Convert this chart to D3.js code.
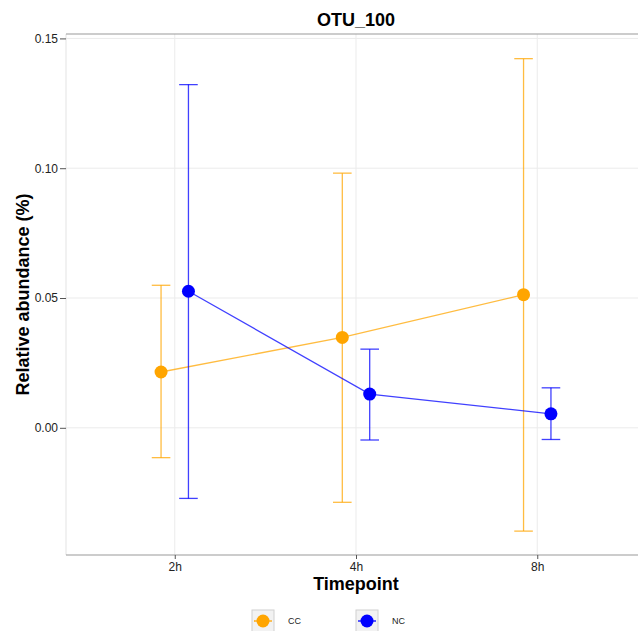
<!DOCTYPE html>
<html>
<head>
<meta charset="utf-8">
<script src="https://cdn.jsdelivr.net/npm/d3@7"></script>
<style>
  body { margin: 0; background: #fff; }
  text { font-family: "Liberation Sans", Arial, sans-serif; }
</style>
</head>
<body>
<svg id="chart"></svg>
<script>
// DATA //////////////////////////////////////////////////////////////////
var timepoints = ["2h", "4h", "8h"];
var groups = ["CC", "NC"];
var cc_mean  = [0.0215, 0.0348, 0.0513];
var cc_upper = [0.0549, 0.0981, 0.1422];
var cc_lower = [-0.0115, -0.0287, -0.0398];
var nc_mean  = [0.0526, 0.0130, 0.0054];
var nc_upper = [0.1322, 0.0303, 0.0154];
var nc_lower = [-0.0272, -0.0047, -0.0045];
var y_ticks = [0.00, 0.05, 0.10, 0.15];

var colours = { CC: "#FFA500", NC: "#0000FF" };

var series = [
  { group: "CC", mean: cc_mean, upper: cc_upper, lower: cc_lower },
  { group: "NC", mean: nc_mean, upper: nc_upper, lower: nc_lower }
];

// SETUP /////////////////////////////////////////////////////////////////
var WIDTH = 638, HEIGHT = 631;
var PANEL = { left: 66, top: 34, right: 646, bottom: 555 };

var svg = d3.select("#chart").attr("width", WIDTH).attr("height", HEIGHT);

// discrete x with ggplot-like expansion of 0.6 on each side
var x = d3.scalePoint().domain(timepoints)
    .range([PANEL.left, PANEL.right]).padding(0.6);
var dodge = d3.scalePoint().domain(groups).range([-13.7, 13.7]);
var y = d3.scaleLinear().domain([-0.049, 0.1517]).range([PANEL.bottom, PANEL.top]);

// grid
var grid = svg.append("g");
grid.selectAll("line.h").data(y_ticks).enter().append("line")
    .attr("x1", PANEL.left).attr("x2", PANEL.right)
    .attr("y1", function (d) { return y(d); }).attr("y2", function (d) { return y(d); })
    .attr("stroke", "#ebebeb").attr("stroke-width", 1);
grid.selectAll("line.v").data(timepoints).enter().append("line")
    .attr("x1", function (d) { return x(d); }).attr("x2", function (d) { return x(d); })
    .attr("y1", PANEL.top).attr("y2", PANEL.bottom)
    .attr("stroke", "#ebebeb").attr("stroke-width", 1);

// panel edges
svg.append("line").attr("x1", PANEL.left).attr("x2", PANEL.left)
    .attr("y1", PANEL.top).attr("y2", PANEL.bottom).attr("stroke", "#e3e3e3");
svg.append("line").attr("x1", PANEL.left).attr("x2", PANEL.right)
    .attr("y1", PANEL.top).attr("y2", PANEL.top).attr("stroke", "#9a9a9a").attr("stroke-width", 1.2);
svg.append("line").attr("x1", PANEL.left).attr("x2", PANEL.right)
    .attr("y1", PANEL.bottom).attr("y2", PANEL.bottom).attr("stroke", "#9a9a9a").attr("stroke-width", 1.2);

// AXES //////////////////////////////////////////////////////////////////
var yAxis = svg.append("g")
    .attr("transform", "translate(" + PANEL.left + ",0)")
    .call(d3.axisLeft(y).tickValues(y_ticks).tickFormat(d3.format(".2f")).tickSize(6).tickPadding(2));
yAxis.select(".domain").remove();
yAxis.selectAll("line").attr("stroke", "#555");
yAxis.selectAll("text").style("font-size", "12px").attr("fill", "#222");

var xAxis = svg.append("g")
    .attr("transform", "translate(0," + PANEL.bottom + ")")
    .call(d3.axisBottom(x).tickSize(4).tickPadding(3));
xAxis.select(".domain").remove();
xAxis.selectAll("line").attr("stroke", "#555");
xAxis.selectAll("text").style("font-size", "12px").attr("fill", "#222");

svg.append("text")
    .attr("x", 356).attr("y", 590)
    .attr("text-anchor", "middle")
    .style("font-size", "18px").style("font-weight", "bold")
    .text("Timepoint");

svg.append("text")
    .attr("transform", "translate(28.5,294.5) rotate(-90)")
    .attr("text-anchor", "middle")
    .style("font-size", "18px").style("font-weight", "bold")
    .text("Relative abundance (%)");

svg.append("text")
    .attr("x", 356).attr("y", 26)
    .attr("text-anchor", "middle")
    .style("font-size", "18px").style("font-weight", "bold")
    .text("OTU_100");

// MARKS /////////////////////////////////////////////////////////////////
function px(group, i) { return x(timepoints[i]) + dodge(group); }

var line = d3.line()
    .x(function (d) { return d.x; })
    .y(function (d) { return d.y; });

series.forEach(function (s) {
    var g = svg.append("g");
    var col = colours[s.group];
    var pts = s.mean.map(function (m, i) {
        return { x: px(s.group, i), y: y(m), up: y(s.upper[i]), lo: y(s.lower[i]) };
    });

    // error bars
    var eb = g.append("g").attr("stroke", col).attr("stroke-opacity", 0.75).attr("stroke-width", 1.3);
    eb.selectAll("line.v").data(pts).enter().append("line")
        .attr("x1", function (d) { return d.x; }).attr("x2", function (d) { return d.x; })
        .attr("y1", function (d) { return d.up; }).attr("y2", function (d) { return d.lo; });
    eb.selectAll("line.t").data(pts).enter().append("line")
        .attr("x1", function (d) { return d.x - 9.3; }).attr("x2", function (d) { return d.x + 9.3; })
        .attr("y1", function (d) { return d.up; }).attr("y2", function (d) { return d.up; });
    eb.selectAll("line.b").data(pts).enter().append("line")
        .attr("x1", function (d) { return d.x - 9.3; }).attr("x2", function (d) { return d.x + 9.3; })
        .attr("y1", function (d) { return d.lo; }).attr("y2", function (d) { return d.lo; });

    // connecting line
    g.append("path").datum(pts)
        .attr("d", line)
        .attr("fill", "none")
        .attr("stroke", col).attr("stroke-opacity", 0.75).attr("stroke-width", 1.3);

    // points
    g.selectAll("circle").data(pts).enter().append("circle")
        .attr("cx", function (d) { return d.x; })
        .attr("cy", function (d) { return d.y; })
        .attr("r", 6.5)
        .attr("fill", col);
});

// LEGEND ////////////////////////////////////////////////////////////////
var legendX = d3.scalePoint().domain(groups).range([252, 356]);
var legend = svg.append("g").selectAll("g").data(groups).enter().append("g")
    .attr("transform", function (d) { return "translate(" + legendX(d) + ",610)"; });
legend.append("rect")
    .attr("width", 22).attr("height", 22)
    .attr("fill", "#f2f2f2").attr("stroke", "#d0d0d0");
legend.append("line")
    .attr("x1", 2).attr("x2", 20).attr("y1", 11).attr("y2", 11)
    .attr("stroke", function (d) { return colours[d]; }).attr("stroke-width", 1.3);
legend.append("circle")
    .attr("cx", 11).attr("cy", 11).attr("r", 6.5)
    .attr("fill", function (d) { return colours[d]; });
legend.append("text")
    .attr("x", 36).attr("y", 14)
    .style("font-size", "9px").attr("fill", "#222")
    .text(function (d) { return d; });
</script>
</body>
</html>
